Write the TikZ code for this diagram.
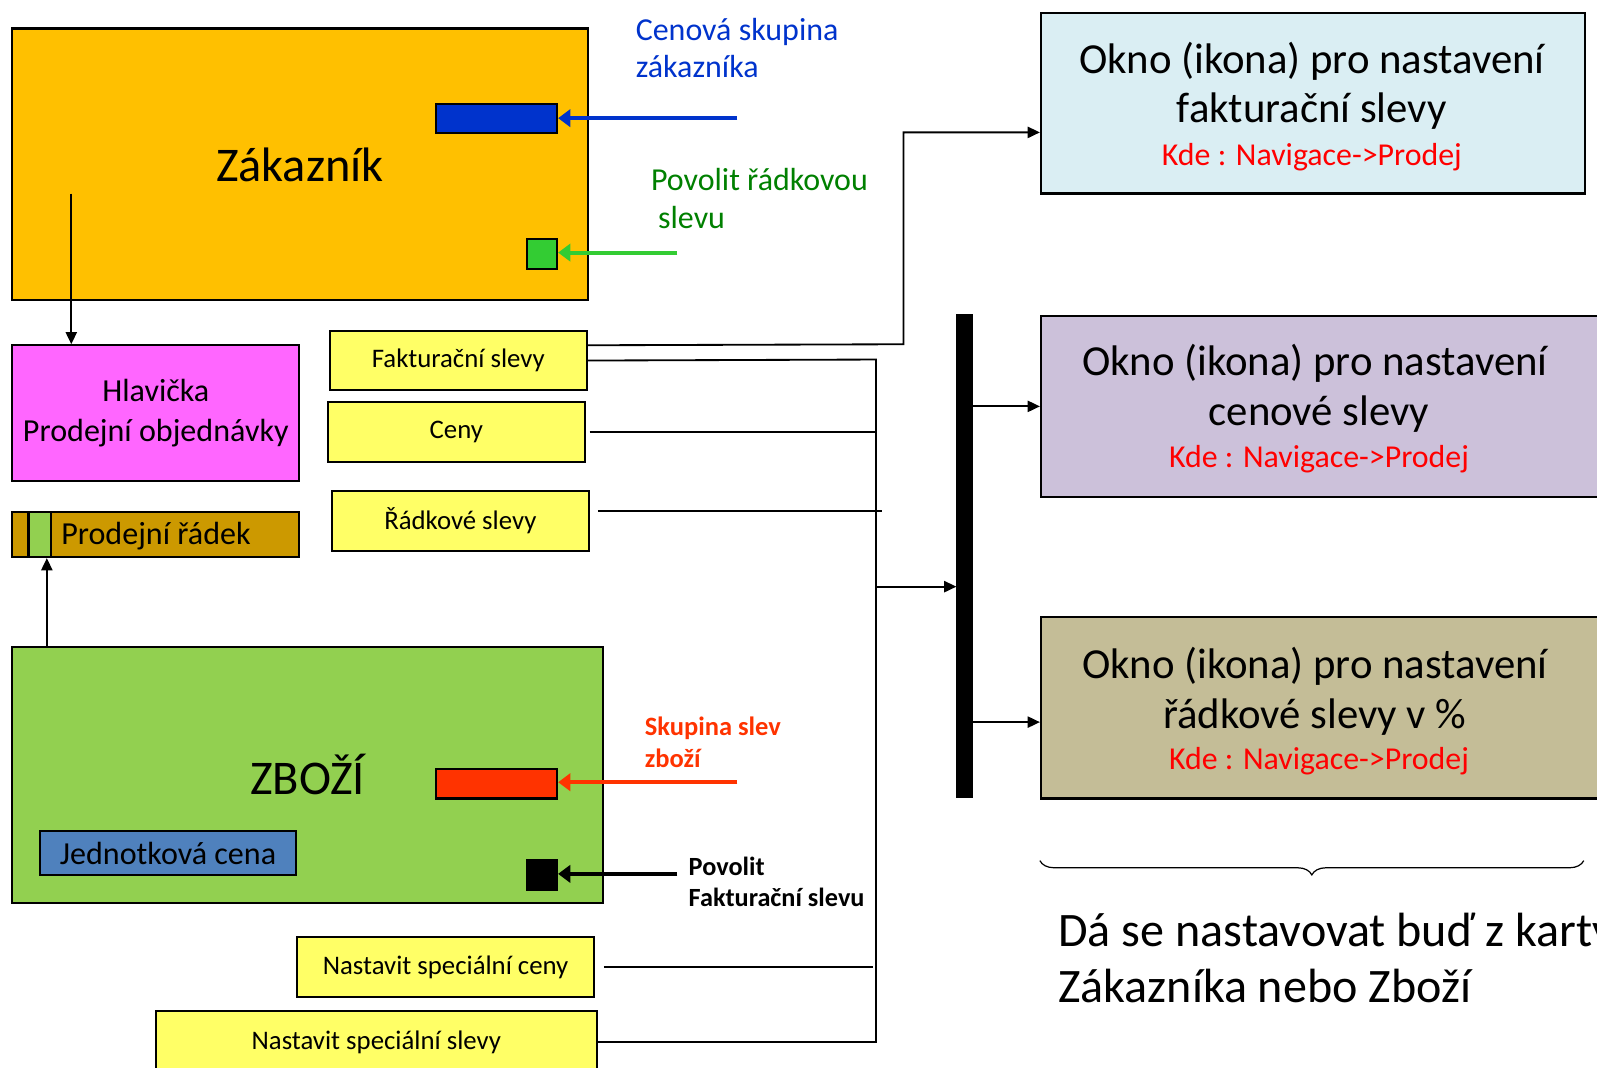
\documentclass[tikz,border=0pt]{standalone}
\usepackage{fontspec}
\setmainfont{Carlito}
\usetikzlibrary{arrows.meta,decorations.pathreplacing,calc}
\newcommand{\myfs}[2]{\fontsize{#1}{#2}\selectfont}
\definecolor{zakc}{HTML}{FFC000}
\definecolor{bluec}{HTML}{0033CC}
\definecolor{grnc}{HTML}{33CC33}
\definecolor{dgrn}{HTML}{008000}
\definecolor{magc}{HTML}{FF66FF}
\definecolor{goldc}{HTML}{CC9900}
\definecolor{lgrn}{HTML}{92D050}
\definecolor{redc}{HTML}{FF3300}
\definecolor{jedc}{HTML}{4F81BD}
\definecolor{yelc}{HTML}{FFFF66}
\definecolor{okA}{HTML}{DAEEF3}
\definecolor{okB}{HTML}{CCC1DA}
\definecolor{okC}{HTML}{C4BD97}
\definecolor{kde}{HTML}{FF0000}
\begin{document}
\begin{tikzpicture}[x=1pt,y=-1pt,
  box/.style={draw=black, line width=2pt, inner sep=0pt, anchor=north west, align=center},
  ybox/.style={box, fill=yelc, font=\myfs{26.3}{31}},
  okbox/.style={box, minimum height=178pt},
  arr/.style={line width=1.8pt, -{Triangle[length=12pt,width=11pt]}},
  conn/.style={line width=1.8pt},
  fat/.style={line width=4pt, -{Triangle[length=12pt,width=17pt]}},
  big/.style={font=\myfs{42}{51}},
  kdet/.style={font=\myfs{31.3}{37}, text=kde},
]
\useasboundingbox (0,0) rectangle (1568,1048);

% Zakaznik
\node[box, fill=zakc, minimum width=565pt, minimum height=267pt, font=\myfs{47.5}{57}] (zak) at (11,27) {Zákazník};
\node[box, fill=bluec, minimum width=119pt, minimum height=29pt] (blu) at (427,101) {};
\node[box, fill=grnc, minimum width=30pt, minimum height=29pt] (grn) at (516,234) {};
\node[anchor=west, align=left, text=bluec, font=\myfs{31.4}{37}, inner sep=0pt] (cen) at (624,47) {Cenová skupina\\zákazníka};
\node[anchor=west, align=left, text=dgrn, font=\myfs{31.4}{37}, inner sep=0pt] (pov) at (639,195) {Povolit řádkovou\\\hspace*{7pt}slevu};
\coordinate (bA) at (724,116);
\coordinate (gA) at (665,248);
\draw[fat, bluec] (bA) -- (blu.east |- bA);
\draw[fat, grnc] (gA) -- (grn.east |- gA);

% Hlavicka
\node[box, fill=magc, minimum width=282pt, minimum height=133pt, font=\myfs{31.5}{38}] (hla) at (11,338) {Hlavička\\[1pt]Prodejní objednávky};
\coordinate (z1) at (70,190);
\draw[arr] (z1) -- (z1 |- hla.north);

% Prodejni radek
\node[box, fill=goldc, minimum width=282pt, minimum height=44pt] (rad) at (11,502) {};
\node[box, fill=lgrn, minimum width=22pt, minimum height=44pt] (radg) at (27,502) {};
\node[anchor=west, inner sep=0pt, font=\myfs{31.5}{36}] (radt) at (60,526) {Prodejní řádek};
\coordinate (g1) at (46,693);
\draw[arr] (g1) -- (g1 |- rad.south);

% Zbozi
\node[box, fill=lgrn, minimum width=580pt, minimum height=252pt] (zbo) at (11,634) {};
\node[font=\myfs{47.5}{57}, inner sep=0pt] (zbot) at (302,760) {ZBOŽÍ};
\node[box, fill=redc, minimum width=119pt, minimum height=29pt] (red) at (427,754) {};
\node[box, fill=black, minimum width=30pt, minimum height=30pt] (blk) at (516,843) {};
\node[box, fill=jedc, minimum width=252pt, minimum height=43pt, font=\myfs{31.5}{36}] (jed) at (38,815) {Jednotková cena};
\node[anchor=west, align=left, text=redc, font=\bfseries\myfs{26}{31}, inner sep=0pt] (sku) at (633,729) {Skupina slev\\zboží};
\node[anchor=west, align=left, font=\bfseries\myfs{25.8}{31}, inner sep=0pt] (povf) at (676,866) {Povolit\\Fakturační slevu};
\coordinate (rA) at (724,768);
\coordinate (kA) at (665,858);
\draw[fat, redc] (rA) -- (red.east |- rA);
\draw[fat, black] (kA) -- (blk.east |- kA);

% Yellow boxes
\node[ybox, minimum width=252pt, minimum height=58pt] (fak) at (323,324) {Fakturační slevy};
\node[ybox, minimum width=252pt, minimum height=59pt] (cen2) at (321,394) {Ceny};
\node[ybox, minimum width=252pt, minimum height=59pt] (rsl) at (325,481) {Řádkové slevy};
\node[ybox, minimum width=291pt, minimum height=59pt] (nsc) at (291,919) {Nastavit speciální ceny};
\node[ybox, minimum width=433pt, minimum height=60pt] (nss) at (152,992) {Nastavit speciální slevy};

% Right boxes
\node[okbox, fill=okA, minimum width=534pt, minimum height=177pt] (ok1) at (1021,12) {};
\node[okbox, fill=okB, minimum width=570pt] (ok2) at (1021,309) {};
\node[okbox, fill=okC, minimum width=570pt] (ok3) at (1021,605) {};
\node[big] (t1a) at (1288,60) {Okno (ikona) pro nastavení};
\node[big] (t1b) at (1288,109) {fakturační slevy};
\node[kdet] (t1c) at (1288,154) {Kde : Navigace->Prodej};
\node[big] (t2a) at (1291,357) {Okno (ikona) pro nastavení};
\node[big] (t2b) at (1295,407) {cenové slevy};
\node[kdet] (t2c) at (1295,451) {Kde : Navigace->Prodej};
\node[big] (t3a) at (1291,654) {Okno (ikona) pro nastavení};
\node[big] (t3b) at (1291,704) {řádkové slevy v \%};
\node[kdet] (t3c) at (1295,747) {Kde : Navigace->Prodej};

% Bar
\node[box, fill=black, minimum width=16pt, minimum height=474pt, line width=0pt] (bar) at (939,309) {};

% Connectors
\coordinate (c1) at (887,338);
\coordinate (c2) at (887,130);
\coordinate (vx) at (860,353);
\draw[arr] ($(fak.east)+(0,-15)$) -- (c1) -- (c2) -- (ok1.west |- c2);
\draw[conn] (nss.east) -- (nss.east -| vx) -- (vx) -- (fak.east);
\draw[conn] ($(cen2.east)+(4,0)$) -- (cen2.east -| vx);
\draw[conn] ($(rsl.east)+(8,-10)$) -- ($(rsl.east -| vx)+(6,-10)$);
\draw[conn] ($(nsc.east)+(9,0)$) -- ($(nsc.east -| vx)+(-3,0)$);
\coordinate (vm) at (860,576);
\draw[arr] (vm) -- (bar.west |- vm);
\draw[arr] (bar.east |- ok2.west) -- (ok2.west);
\coordinate (b3) at (955,709);
\draw[arr] (b3) -- (ok3.west |- b3);

% Brace and note
\draw[line width=1.2pt, decorate, decoration={brace, mirror, amplitude=14pt}] (1021,845) -- (1555,845);
\node[anchor=west, align=left, font=\myfs{47.2}{55}, inner sep=0pt] (note) at (1039,941) {Dá se nastavovat buď z karty\\Zákazníka nebo Zboží};
\end{tikzpicture}
\end{document}
